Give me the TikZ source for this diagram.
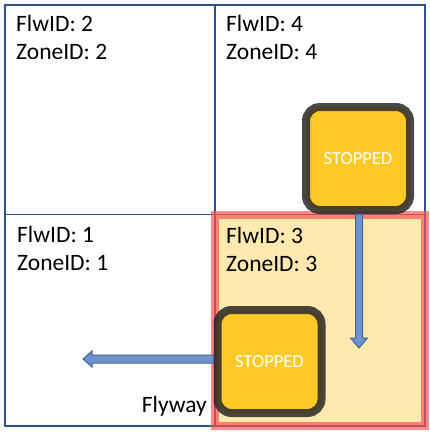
\documentclass[tikz,border=0pt]{standalone}
\usepackage{fontspec}
\setmainfont{Carlito}
\usepackage{tikz}
\usetikzlibrary{calc}
\definecolor{gridblue}{RGB}{47,82,143}
\definecolor{zonefill}{RGB}{255,233,175}
\definecolor{zonered}{RGB}{255,80,80}
\definecolor{stopfill}{RGB}{255,202,40}
\definecolor{stopline}{RGB}{40,40,40}
\definecolor{flowfill}{RGB}{112,146,204}
\definecolor{flowline}{RGB}{65,100,160}
\tikzset{
	zonetext/.style={anchor=base west, inner sep=0pt, font=\fontsize{23.5}{28}\selectfont},
	stopbox/.style={draw=stopline, draw opacity=.85, line width=8pt, fill=stopfill, rounded corners=14pt,
		minimum width=104pt, minimum height=103pt, inner sep=0pt, text=white, font=\fontsize{18.5}{20}\selectfont},
	flow/.style={fill=flowfill, draw=flowline, line width=1pt}
}

\begin{document}
\begin{tikzpicture}[x=1pt,y=-1pt]
	\useasboundingbox (0,0) rectangle (429,434);
	\fill[zonefill] (215,214.5) rectangle (425,426);
	\draw[gridblue, line width=1.3pt] (5,5) rectangle (425,426);
	\draw[gridblue, line width=1.3pt] (215,5) -- (215,426);
	\draw[gridblue, line width=1.3pt] (5,214.5) -- (425,214.5);
	\draw[zonered, draw opacity=.68, line width=8pt] (215,214.5) rectangle (425,426);
	\foreach \n/\x/\y in {2/16/31, 4/226/31, 1/17/242, 3/226/243} {
		\node[zonetext] (flw\n) at (\x,\y) {FlwID: \n};
		\node[zonetext] (zone\n) at (\x,\y+28.5) {ZoneID: \n};
	}
	\node[zonetext, anchor=base east] (flyway) at (207,412) {Flyway};
	\node[stopbox] (stop4) at (358,158.5) {STOPPED};
	\node[stopbox] (stop3) at (269.5,361.5) {STOPPED};
	\coordinate (tipS) at (359,348);
	\coordinate (tipW) at (83,359);
%	stop4 moves down, stop3 moves west
	\draw[flow] ($(stop4.south -| tipS)+(-3.5,0)$) -- ($(tipS)+(-3.5,-10)$) -- ($(tipS)+(-8.5,-10)$) -- (tipS)
		-- ($(tipS)+(8.5,-10)$) -- ($(tipS)+(3.5,-10)$) -- ($(stop4.south -| tipS)+(3.5,0)$) -- cycle;
	\draw[flow] ($(stop3.west |- tipW)+(0,-4)$) -- ($(tipW)+(9,-4)$) -- ($(tipW)+(9,-8)$) -- (tipW)
		-- ($(tipW)+(9,8)$) -- ($(tipW)+(9,4)$) -- ($(stop3.west |- tipW)+(0,4)$) -- cycle;
\end{tikzpicture}
\end{document}
